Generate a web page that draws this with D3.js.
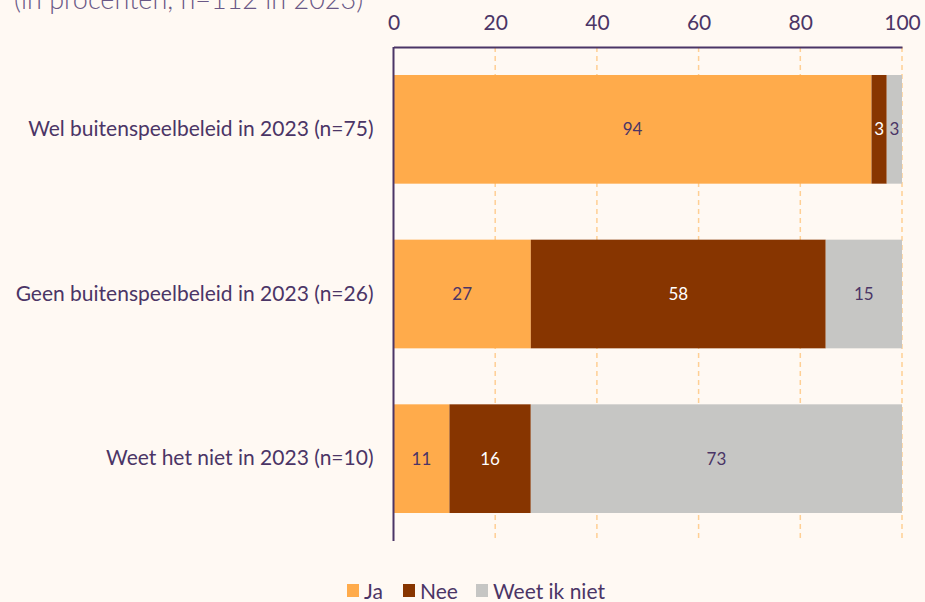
<!DOCTYPE html>
<html>
<head>
<meta charset="utf-8">
<script src="https://cdn.jsdelivr.net/npm/d3@7"></script>
<style>
  html, body { margin: 0; padding: 0; background: #fff9f3; }
  svg { display: block; font-family: Lato, "Open Sans", sans-serif; }
</style>
</head>
<body>
<div id="chart"></div>
<script>
const categories = [
  "Wel buitenspeelbeleid in 2023 (n=75)",
  "Geen buitenspeelbeleid in 2023 (n=26)",
  "Weet het niet in 2023 (n=10)"
];
const seriesNames = ["Ja", "Nee", "Weet ik niet"];
const ja = [94, 27, 11];
const nee = [3, 58, 16];
const weetNiet = [3, 15, 73];
const xTicks = [0, 20, 40, 60, 80, 100];

const colors = { "Ja": "#ffab4b", "Nee": "#873500", "Weet ik niet": "#c6c6c4" };
const labelColors = { "Ja": "#4b3566", "Nee": "#ffffff", "Weet ik niet": "#4b3566" };
const textColor = "#4b3566";

const width = 925, height = 602;
const margin = { top: 47, left: 393.5, right: 23, bottom: 61 };

const svg = d3.select("#chart").append("svg")
  .attr("width", width)
  .attr("height", height);

svg.append("rect").attr("width", width).attr("height", height).attr("fill", "#fff9f3");

// title, cut off at top
svg.append("text")
  .attr("x", 14)
  .attr("y", 9)
  .attr("fill", "#6a5886")
  .style("font-size", "27px")
  .style("font-weight", "300")
  .text("(in procenten, n=112 in 2023)");

const data = categories.map((c, i) => ({ cat: c, "Ja": ja[i], "Nee": nee[i], "Weet ik niet": weetNiet[i] }));
const stacked = d3.stack().keys(seriesNames)(data);

const x = d3.scaleLinear().domain([0, 100]).range([margin.left, width - margin.right]);
const y = d3.scaleBand()
  .domain(categories)
  .range([margin.top, height - margin.bottom])
  .paddingInner(0.34)
  .paddingOuter(0.17);

// gridlines
svg.append("g")
  .selectAll("line")
  .data(xTicks.filter(t => t > 0))
  .enter()
  .append("line")
  .attr("x1", d => x(d)).attr("x2", d => x(d))
  .attr("y1", margin.top).attr("y2", height - margin.bottom)
  .attr("stroke", "#ffcf94")
  .attr("stroke-width", 1.5)
  .attr("stroke-dasharray", "5,4");

// bars
const groups = svg.append("g")
  .selectAll("g")
  .data(stacked)
  .enter()
  .append("g")
  .attr("fill", d => colors[d.key]);

groups.selectAll("rect")
  .data(d => d)
  .enter()
  .append("rect")
  .attr("x", d => x(d[0]))
  .attr("y", d => y(d.data.cat))
  .attr("width", d => x(d[1]) - x(d[0]))
  .attr("height", y.bandwidth());

// value labels
stacked.forEach(s => {
  svg.append("g")
    .selectAll("text")
    .data(s)
    .enter()
    .append("text")
    .attr("x", d => (x(d[0]) + x(d[1])) / 2)
    .attr("y", d => y(d.data.cat) + y.bandwidth() / 2)
    .attr("dy", "0.35em")
    .attr("text-anchor", "middle")
    .attr("fill", labelColors[s.key])
    .style("font-size", "17px")
    .text(d => d[1] - d[0]);
});

// top axis
const xAxis = svg.append("g")
  .attr("transform", "translate(0," + margin.top + ")")
  .call(d3.axisTop(x).tickValues(xTicks).tickSize(0).tickPadding(17));
xAxis.select(".domain").attr("stroke", textColor).attr("stroke-width", 2);
xAxis.selectAll("text").attr("fill", textColor).style("font-size", "21px").style("font-family", "Lato");

// left axis
const yAxis = svg.append("g")
  .attr("transform", "translate(" + margin.left + ",0)")
  .call(d3.axisLeft(y).tickSize(0).tickPadding(20).tickSizeOuter(0));
yAxis.select(".domain").attr("stroke", textColor).attr("stroke-width", 2)
  .attr("d", "M0," + margin.top + "V" + (height - margin.bottom));
yAxis.selectAll("text").attr("fill", textColor).style("font-size", "21px").style("font-family", "Lato");

// legend
const legendX = [347, 403, 476];
const legend = svg.append("g")
  .selectAll("g")
  .data(seriesNames)
  .enter()
  .append("g")
  .attr("transform", (d, i) => "translate(" + legendX[i] + ",584)");
legend.append("rect").attr("width", 12).attr("height", 13).attr("fill", d => colors[d]);
legend.append("text")
  .attr("x", 17).attr("y", 7).attr("dy", "0.37em")
  .attr("fill", textColor)
  .style("font-size", "21px")
  .text(d => d);
</script>
</body>
</html>
